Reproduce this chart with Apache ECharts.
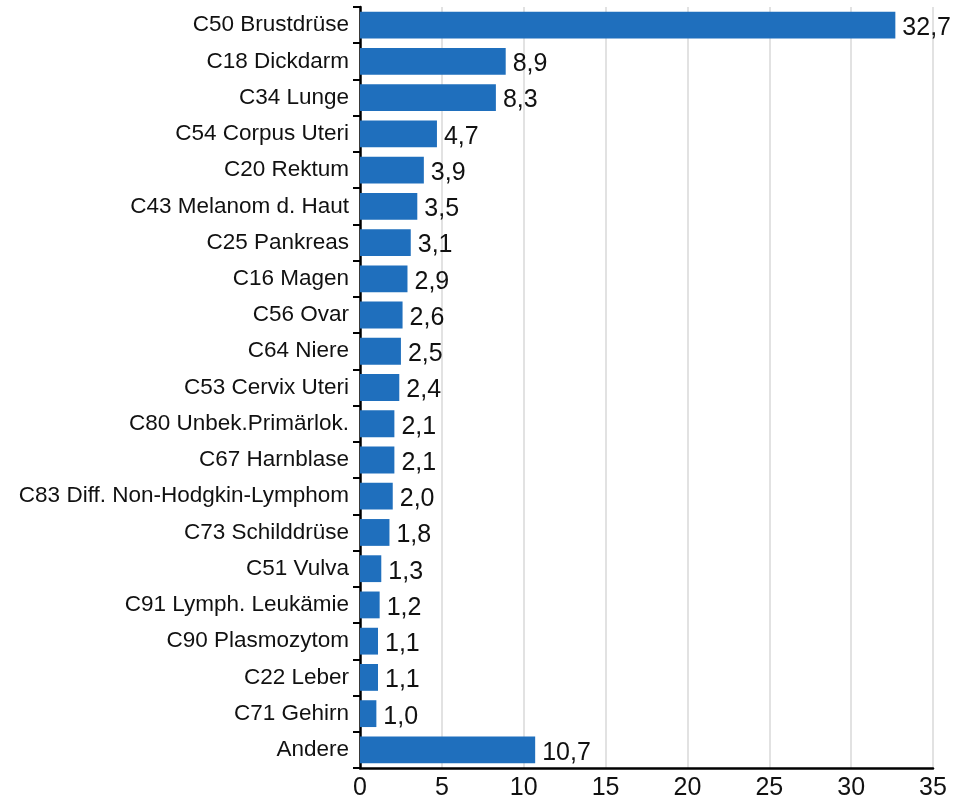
<!DOCTYPE html>
<html><head><meta charset="utf-8">
<script src="https://cdn.jsdelivr.net/npm/echarts@6/dist/echarts.min.js"></script>
<style>html,body{margin:0;padding:0;background:#fff}#c{width:957px;height:808px}</style>
</head><body><div id="c"></div>
<script>
const categories = ["C50 Brustdrüse","C18 Dickdarm","C34 Lunge","C54 Corpus Uteri","C20 Rektum","C43 Melanom d. Haut","C25 Pankreas","C16 Magen","C56 Ovar","C64 Niere","C53 Cervix Uteri","C80 Unbek.Primärlok.","C67 Harnblase","C83 Diff. Non-Hodgkin-Lymphom","C73 Schilddrüse","C51 Vulva","C91 Lymph. Leukämie","C90 Plasmozytom","C22 Leber","C71 Gehirn","Andere"];
const values = [32.7,8.9,8.3,4.7,3.9,3.5,3.1,2.9,2.6,2.5,2.4,2.1,2.1,2.0,1.8,1.3,1.2,1.1,1.1,1.0,10.7];
const xTicks = [0,5,10,15,20,25,30,35];
const font = '"Liberation Sans",Arial,sans-serif';
const chart = echarts.init(document.getElementById('c'));
chart.setOption({
  animation:false,
  grid:{left:360,right:24,top:7,bottom:40,containLabel:false},
  xAxis:{type:'value',min:xTicks[0],max:xTicks[xTicks.length-1],interval:5,
    axisLine:{show:true,lineStyle:{color:'#000',width:2.5}},
    axisTick:{show:false},
    axisLabel:{color:'#111',fontSize:25,fontFamily:font,margin:8},
    splitLine:{show:true,lineStyle:{color:'#d8d8d8',width:1.5}}},
  yAxis:{type:'category',inverse:true,data:categories,
    axisLine:{show:true,lineStyle:{color:'#000',width:2.5}},
    axisTick:{show:true,length:7,lineStyle:{color:'#000',width:2}},
    axisLabel:{color:'#111',fontSize:22.5,fontFamily:font,margin:11,letterSpacing:-0.6}},
  series:[{type:'bar',data:values,barCategoryGap:'26%',
    itemStyle:{color:'#1f6fbd'},
    label:{show:true,position:'right',distance:7,offset:[0,3],color:'#111',fontSize:25,fontFamily:font,
      formatter:p=>p.value.toFixed(1).replace('.',',')}}]
});
</script></body></html>
